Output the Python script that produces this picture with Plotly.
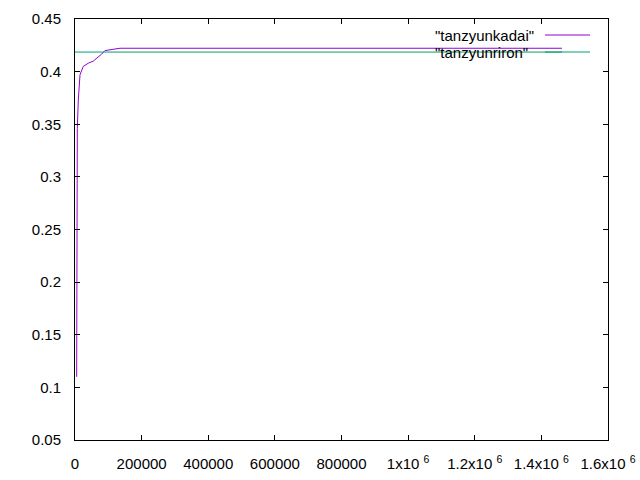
import plotly.graph_objects as go

# "tanzyunkadai" series
kadai_x = [5000, 5800, 6900, 9900, 12900, 15000, 24900, 39900, 54900, 69900, 80100, 90000, 110000, 135000, 1462000]
kadai_y = [0.110, 0.300, 0.346, 0.373, 0.392, 0.397, 0.405, 0.408, 0.410, 0.4136, 0.4167, 0.4200, 0.4212, 0.4222, 0.4222]

# "tanzyunriron" series (constant theoretical value)
riron_x = [0, 1462000]
riron_y = [0.4186, 0.4186]

series_names = ['"tanzyunkadai"', '"tanzyunriron"']
series_colors = ["#9400D3", "#009E73"]

x_tick_vals = [0, 200000, 400000, 600000, 800000, 1000000, 1200000, 1400000, 1600000]
x_tick_text = ["0", "200000", "400000", "600000", "800000",
               "1x10 <sup>6</sup>", "1.2x10 <sup>6</sup>", "1.4x10 <sup>6</sup>", "1.6x10 <sup>6</sup>"]
y_tick_vals = [0.05, 0.1, 0.15, 0.2, 0.25, 0.3, 0.35, 0.4, 0.45]
y_tick_text = ["0.05", "0.1", "0.15", "0.2", "0.25", "0.3", "0.35", "0.4", "0.45"]

fig = go.Figure()
fig.add_trace(go.Scatter(x=kadai_x, y=kadai_y, mode="lines", name=series_names[0],
                         line=dict(color=series_colors[0], width=1)))
fig.add_trace(go.Scatter(x=riron_x, y=riron_y, mode="lines", name=series_names[1],
                         line=dict(color=series_colors[1], width=1)))

W, H = 640, 480
L, R, T, B = 75, 32, 19, 40
pw, ph = W - L - R, H - T - B

def px(xp):
    return (xp - L) / pw

def py(yp):
    return 1 - (yp - T) / ph

font = dict(family="Liberation Sans, Arial, sans-serif", size=15, color="black")

# manual gnuplot-style key (text right, sample line to the right)
key_rows = [(35, 535), (52, 529)]
for (yp, xr), name, col in zip(key_rows, series_names, series_colors):
    fig.add_annotation(x=px(xr), y=py(yp), xref="paper", yref="paper", text=name,
                       showarrow=False, xanchor="right", yanchor="middle", font=font,
                       borderpad=0)
    fig.add_shape(type="line", xref="paper", yref="paper", x0=px(545), x1=px(590),
                  y0=py(yp), y1=py(yp), line=dict(color=col, width=1))

axis_common = dict(showline=True, linecolor="black", linewidth=1, mirror="ticks",
                   ticks="inside", ticklen=5, tickcolor="black", showgrid=False,
                   zeroline=False, tickfont=font, automargin=False)

fig.update_layout(
    width=W, height=H,
    margin=dict(l=L, r=R, t=T, b=B, pad=0),
    paper_bgcolor="white", plot_bgcolor="white",
    showlegend=False,
    font=font,
    xaxis=dict(range=[0, 1600000], tickvals=x_tick_vals, ticktext=x_tick_text,
               ticklabelstandoff=10, **axis_common),
    yaxis=dict(range=[0.05, 0.45], tickvals=y_tick_vals, ticktext=y_tick_text,
               ticklabelstandoff=10, **axis_common),
)

fig.write_html("out.html", config={"displayModeBar": False},
               post_script="document.body.style.margin='0';document.body.style.overflow='hidden';")
